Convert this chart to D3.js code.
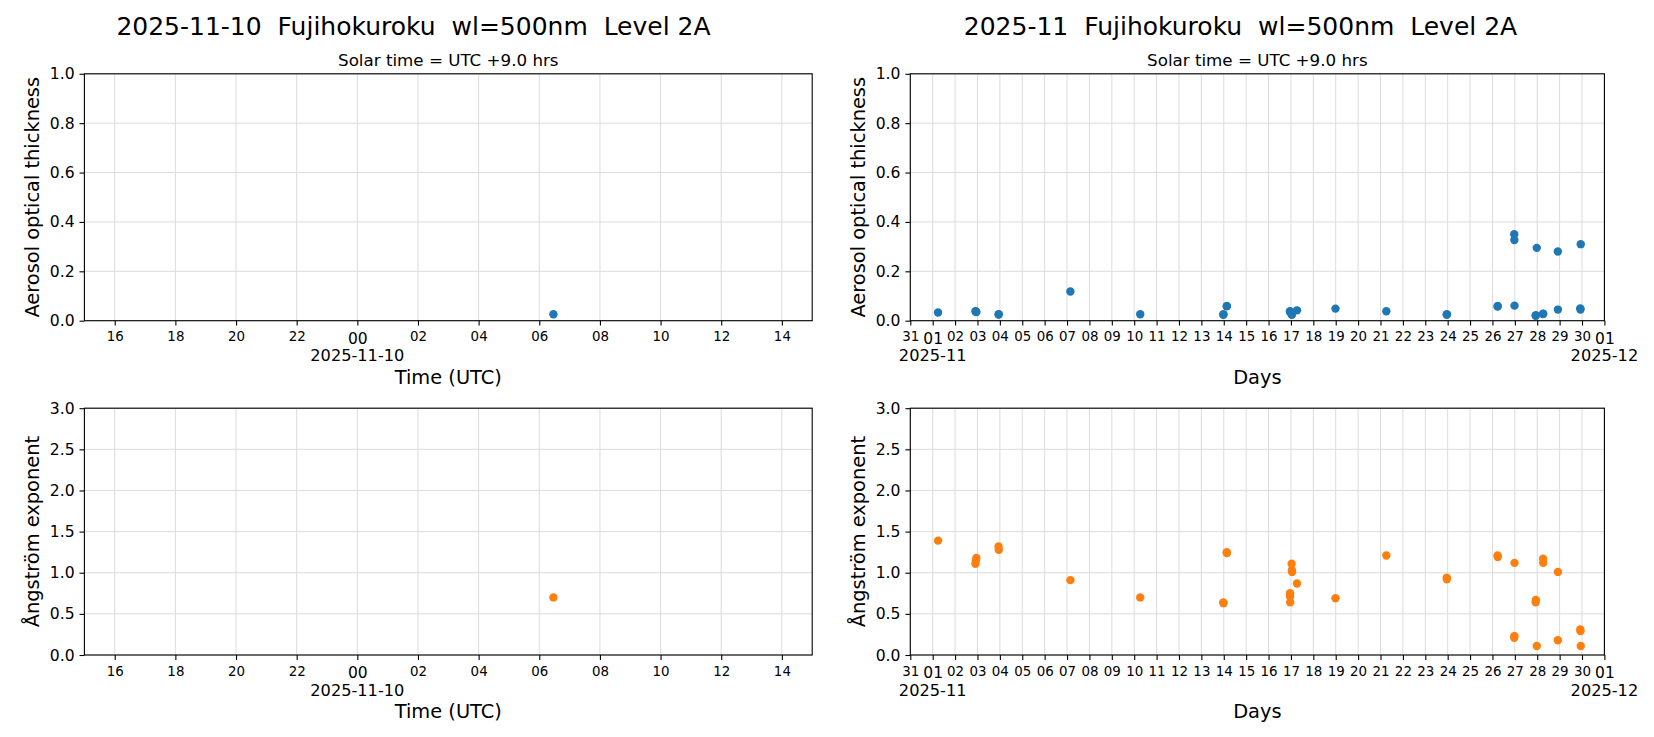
<!DOCTYPE html>
<html><head><meta charset="utf-8">
<script src="https://cdn.jsdelivr.net/npm/d3@7"></script>
<style>body{margin:0;background:#fff} text{font-family:"DejaVu Sans",sans-serif;fill:#000;white-space:pre}</style>
</head><body><svg id="c" width="1654" height="737" xmlns="http://www.w3.org/2000/svg"></svg>
<script>
// ---------------- data ----------------
const obsTimes = [
 "2025-11-01T05:45Z","2025-11-02T21:50Z","2025-11-02T22:20Z","2025-11-02T22:50Z",
 "2025-11-03T22:35Z","2025-11-03T22:50Z","2025-11-07T03:35Z","2025-11-10T06:28Z",
 "2025-11-13T23:30Z","2025-11-13T23:40Z","2025-11-14T03:10Z","2025-11-14T03:20Z",
 "2025-11-16T23:00Z","2025-11-16T23:05Z","2025-11-16T23:10Z","2025-11-17T00:45Z",
 "2025-11-17T01:00Z","2025-11-17T01:15Z","2025-11-17T06:30Z","2025-11-18T23:45Z",
 "2025-11-21T06:15Z","2025-11-23T23:00Z","2025-11-23T23:10Z","2025-11-26T05:30Z",
 "2025-11-26T05:40Z","2025-11-26T23:20Z","2025-11-26T23:30Z","2025-11-26T23:40Z",
 "2025-11-27T22:20Z","2025-11-27T22:30Z","2025-11-27T23:30Z","2025-11-28T06:15Z",
 "2025-11-28T06:25Z","2025-11-28T22:05Z","2025-11-28T22:10Z","2025-11-29T22:10Z",
 "2025-11-29T22:20Z","2025-11-29T22:40Z"
];
const aotValues = [
 0.033,0.038,0.036,0.035,
 0.025,0.026,0.118,0.026,
 0.024,0.026,0.058,0.060,
 0.038,0.036,0.035,0.026,
 0.024,0.030,0.042,0.049,
 0.038,0.024,0.026,0.057,
 0.060,0.350,0.327,0.061,
 0.020,0.022,0.295,0.027,
 0.028,0.280,0.045,0.050,
 0.045,0.310
];
const aeValues = [
 1.39,1.11,1.15,1.18,
 1.32,1.28,0.91,0.70,
 0.64,0.63,1.25,1.24,
 0.75,0.71,0.64,1.11,
 1.03,1.01,0.87,0.69,
 1.21,0.94,0.92,1.21,
 1.19,0.21,0.23,1.12,
 0.64,0.67,0.11,1.17,
 1.12,0.18,1.01,0.31,
 0.29,0.11
];
const aotTicks = [0,0.2,0.4,0.6,0.8,1.0];
const aeTicks = [0,0.5,1.0,1.5,2.0,2.5,3.0];
const dailyDomain = ["2025-11-09T15:00Z","2025-11-10T15:00Z"];
const monthlyDomain = ["2025-10-31T00:00Z","2025-12-01T00:00Z"];
const dailyTitle = "2025-11-10  Fujihokuroku  wl=500nm  Level 2A";
const monthlyTitle = "2025-11  Fujihokuroku  wl=500nm  Level 2A";
const subTitle = "Solar time = UTC +9.0 hrs";
const aotLabel = "Aerosol optical thickness";
const aeLabel = "Ångström exponent";
const dailyXLabel = "Time (UTC)";
const monthlyXLabel = "Days";

// ---------------- layout ----------------
const svg = d3.select("#c");
svg.append("rect").attr("width",1654).attr("height",737).attr("fill","#fff");
const parse = s => new Date(s);
const obs = obsTimes.map((t,i)=>({t:parse(t), aot:aotValues[i], ae:aeValues[i]}));

const cols = [
  {x0:84.4, x1:812.2, domain:dailyDomain, kind:"daily", title:dailyTitle, tcx:413.5, xlabel:dailyXLabel},
  {x0:910.3, x1:1604.4, domain:monthlyDomain, kind:"monthly", title:monthlyTitle, tcx:1240.5, xlabel:monthlyXLabel}
];
const rows = [
  {y0:73.8, y1:320.7, key:"aot", ticks:aotTicks, max:1.0, color:"#1f77b4", label:aotLabel},
  {y0:408.2, y1:655.0, key:"ae", ticks:aeTicks, max:3.0, color:"#ff7f0e", label:aeLabel}
];

const TICK = 4.9;
cols.forEach((c,ci)=>{
  svg.append("text").attr("x",c.tcx).attr("y",34.5).attr("text-anchor","middle")
    .attr("xml:space","preserve").attr("font-size",25).text(c.title);
  const x = d3.scaleUtc().domain(c.domain.map(parse)).range([c.x0,c.x1]);
  let ticks, fmt, isMajor, offsetLabel;
  if (c.kind==="daily") {
    ticks = d3.utcHour.every(2).range(new Date("2025-11-09T16:00Z"), new Date("2025-11-10T15:00Z"));
    fmt = d3.utcFormat("%H");
    isMajor = d => d.getUTCHours()===0;
    offsetLabel = d3.utcFormat("%Y-%m-%d");
  } else {
    ticks = d3.utcDay.range(parse(c.domain[0]), new Date(parse(c.domain[1]).getTime()+1));
    fmt = d3.utcFormat("%d");
    isMajor = d => d.getUTCDate()===1;
    offsetLabel = d3.utcFormat("%Y-%m");
  }
  rows.forEach((r,ri)=>{
    const y = d3.scaleLinear().domain([0,r.max]).range([r.y1,r.y0]);
    const g = svg.append("g");
    if (ri===0) g.append("text").attr("x",(c.x0+c.x1)/2).attr("y",r.y0-8).attr("text-anchor","middle")
      .attr("font-size",16.7).text(subTitle);
    // grid
    g.append("g").selectAll("line").data(ticks).join("line")
      .attr("x1",d=>x(d)).attr("x2",d=>x(d)).attr("y1",r.y0).attr("y2",r.y1)
      .attr("stroke","#dcdcdc").attr("stroke-width",1);
    g.append("g").selectAll("line").data(r.ticks).join("line")
      .attr("x1",c.x0).attr("x2",c.x1).attr("y1",d=>y(d)).attr("y2",d=>y(d))
      .attr("stroke","#dcdcdc").attr("stroke-width",1);
    // points
    const clipId = `clip${ci}${ri}`;
    svg.append("clipPath").attr("id",clipId).append("rect")
      .attr("x",c.x0).attr("y",r.y0).attr("width",c.x1-c.x0).attr("height",r.y1-r.y0);
    const dom = x.domain();
    const pts = obs.filter(o=>o.t>=dom[0] && o.t<=dom[1]);
    g.append("g").attr("clip-path",`url(#${clipId})`).selectAll("circle").data(pts).join("circle")
      .attr("cx",d=>x(d.t)).attr("cy",d=>y(d[r.key])).attr("r",4.2).attr("fill",r.color);
    // x axis
    const xa = g.append("g").attr("transform",`translate(0,${r.y1})`)
      .call(d3.axisBottom(x).tickValues(ticks).tickFormat(fmt).tickSize(TICK).tickSizeOuter(0));
    xa.select(".domain").remove();
    xa.selectAll(".tick line").attr("stroke","#000").attr("stroke-width",1.1);
    xa.selectAll(".tick text").attr("dy",null)
      .attr("y",d=>isMajor(d)?23:20.5)
      .attr("font-size",d=>isMajor(d)?15.5:13.4)
      .attr("font-family","DejaVu Sans");
    ticks.filter(isMajor).forEach(d=>{
      g.append("text").attr("x",x(d)).attr("y",r.y1+40.5).attr("text-anchor","middle")
        .attr("font-size",16.2).text(offsetLabel(d));
    });
    g.append("text").attr("x",(c.x0+c.x1)/2).attr("y",r.y1+63).attr("text-anchor","middle")
      .attr("font-size",19.4).text(c.xlabel);
    // y axis
    const ya = g.append("g").attr("transform",`translate(${c.x0},0)`)
      .call(d3.axisLeft(y).tickValues(r.ticks).tickFormat(d3.format(".1f")).tickSize(TICK).tickPadding(4.9).tickSizeOuter(0));
    ya.select(".domain").remove();
    ya.selectAll(".tick line").attr("stroke","#000").attr("stroke-width",1.1);
    ya.selectAll(".tick text").attr("font-size",15.6).attr("font-family","DejaVu Sans");
    const lx = c.x0-45;
    g.append("text").attr("transform",`translate(${lx},${(r.y0+r.y1)/2}) rotate(-90)`)
      .attr("text-anchor","middle").attr("font-size",19.4).text(r.label);
    // frame
    g.append("rect").attr("x",c.x0).attr("y",r.y0).attr("width",c.x1-c.x0).attr("height",r.y1-r.y0)
      .attr("fill","none").attr("stroke","#000").attr("stroke-width",1.1);
  });
});
</script></body></html>
